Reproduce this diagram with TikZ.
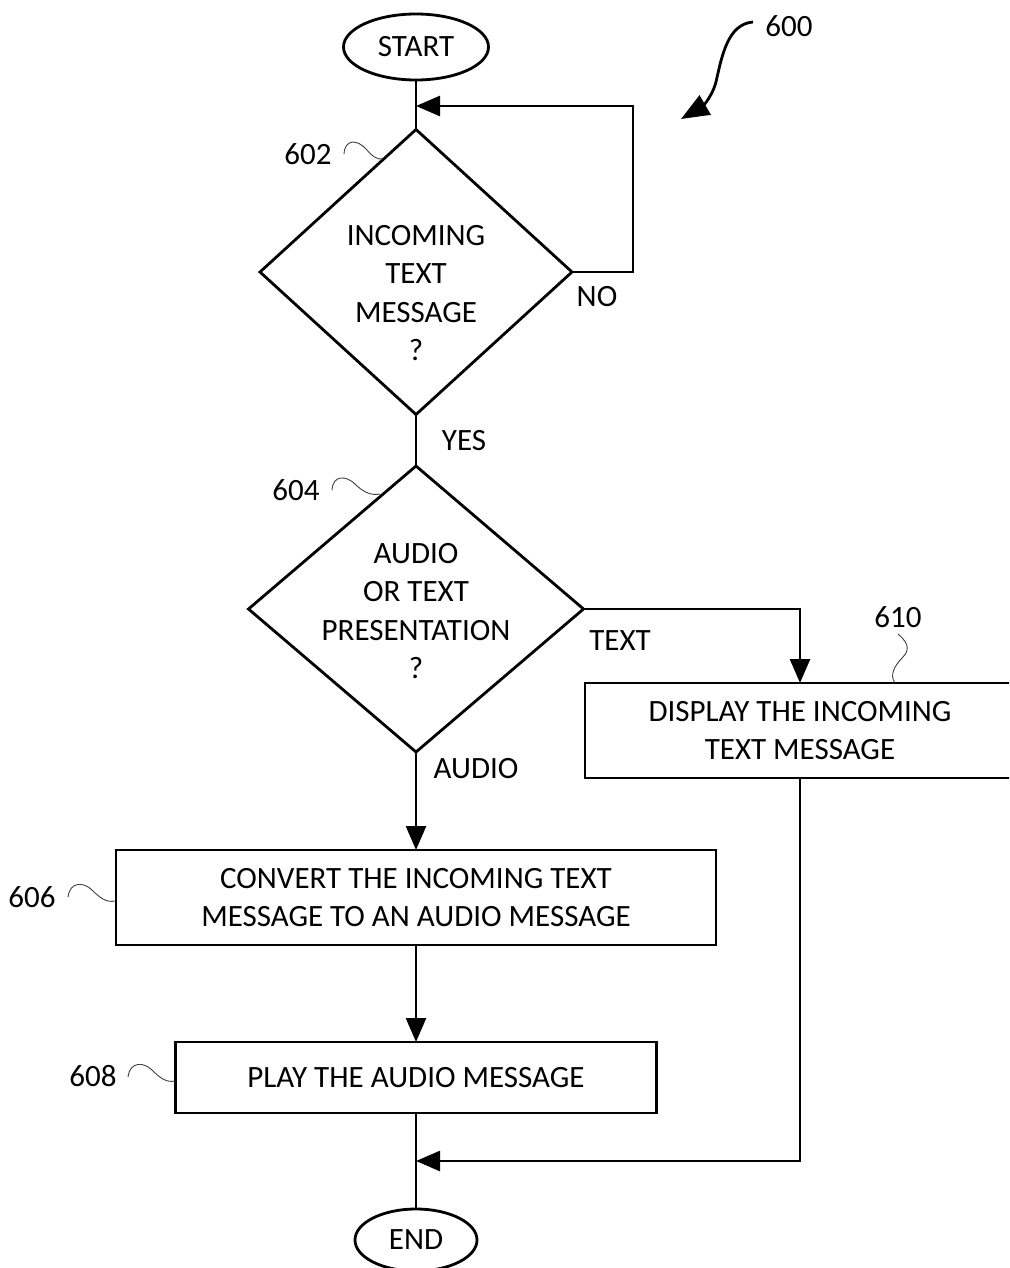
\documentclass[tikz,border=0pt]{standalone}
\usepackage{fontspec}
\setmainfont{Carlito}
\usetikzlibrary{shapes.geometric,arrows.meta}
\begin{document}
\begin{tikzpicture}[x=1pt,y=-1pt,
  txt/.style={font=\fontsize{31}{38.5}\selectfont, inner sep=0pt, align=center},
  term/.style={ellipse, draw, line width=2.8pt, inner sep=0pt, outer sep=0pt, txt},
  dec/.style={diamond, draw, line width=2.8pt, inner sep=0pt, outer sep=0pt},
  proc/.style={rectangle, draw, line width=2.8pt, inner sep=0pt, outer sep=0pt, txt},
  conn/.style={line width=2.6pt},
  arr/.style={conn, -{Triangle[length=24pt,width=20pt]}},
  squig/.style={line width=0.9pt, black!75},
]
\useasboundingbox (0,0) rectangle (1009,1268);
\clip (0,0) rectangle (1009,1268);

% terminals
\node[term, minimum width=145pt, minimum height=66pt] (start) at (416,47) {START};
\node[term, minimum width=122pt, minimum height=62pt] (end) at (416,1240) {END};

% decisions
\node[dec, minimum width=312pt, minimum height=285pt] (d602) at (416,272) {};
\node[txt] (t602) at (416,293) {INCOMING\\TEXT\\MESSAGE\\?};
\node[dec, minimum width=335pt, minimum height=286pt] (d604) at (416,609) {};
\node[txt] (t604) at (416,611) {AUDIO\\OR TEXT\\PRESENTATION\\?};

% processes
\node[proc, minimum width=600pt, minimum height=95pt] (b606) at (416,897.5) {CONVERT THE INCOMING TEXT\\MESSAGE TO AN AUDIO MESSAGE};
\node[proc, minimum width=481pt, minimum height=71pt] (b608) at (416,1077.5) {PLAY THE AUDIO MESSAGE};
\node[proc, minimum width=430pt, minimum height=95pt] (b610) at (800,730.5) {DISPLAY THE INCOMING\\TEXT MESSAGE};

% join points
\coordinate (loopjoin) at (416,106);
\coordinate (endjoin) at (416,1161);

% connectors
\draw[conn] (start.south) -- (d602.north);
\draw[arr] (d602.east) -- ++(61,0) |- (loopjoin);
\draw[conn] (d602.south) -- (d604.north);
\draw[arr] (d604.south) -- (b606.north);
\draw[arr] (d604.east) -| (b610.north);
\draw[arr] (b606.south) -- (b608.north);
\draw[conn] (b608.south) -- (end.north);
\draw[arr] (b610.south) |- (endjoin);

% connector labels
\node[txt] (lno) at (597,297) {NO};
\node[txt] (lyes) at (464,441) {YES};
\node[txt] (ltext) at (620,641) {TEXT};
\node[txt] (laudio) at (476,769) {AUDIO};

% reference numerals
\node[txt] (n600) at (789,26) {600};
\node[txt] (n602) at (308,154) {602};
\node[txt] (n604) at (296,490) {604};
\node[txt] (n606) at (32,897) {606};
\node[txt] (n608) at (93,1076) {608};
\node[txt] (n610) at (898,617) {610};

% figure arrow
\draw[line width=2.8pt, -{Triangle[length=28pt,width=22pt]}]
  (753,22) .. controls (728,24) and (722,55) .. (716,82)
  .. controls (711,100) and (700,108) .. (681,119);

% squiggles
\draw[squig] (344,154) .. controls (345,138) and (358,140) .. (366,149) .. controls (372,156) and (377,160) .. (383,159);
\draw[squig] (332,490) .. controls (333,474) and (347,476) .. (355,484) .. controls (362,491) and (370,496) .. (380,494);
\draw[squig] (68,897) .. controls (70,881) and (84,882) .. (92,890) .. controls (99,897) and (106,903) .. (115,901);
\draw[squig] (128,1077) .. controls (130,1061) and (144,1062) .. (152,1070) .. controls (159,1077) and (166,1083) .. (175,1081);
\draw[squig] (898,634) .. controls (905,640) and (912,648) .. (903,657) .. controls (895,665) and (889,675) .. (895,683);
\end{tikzpicture}
\end{document}
